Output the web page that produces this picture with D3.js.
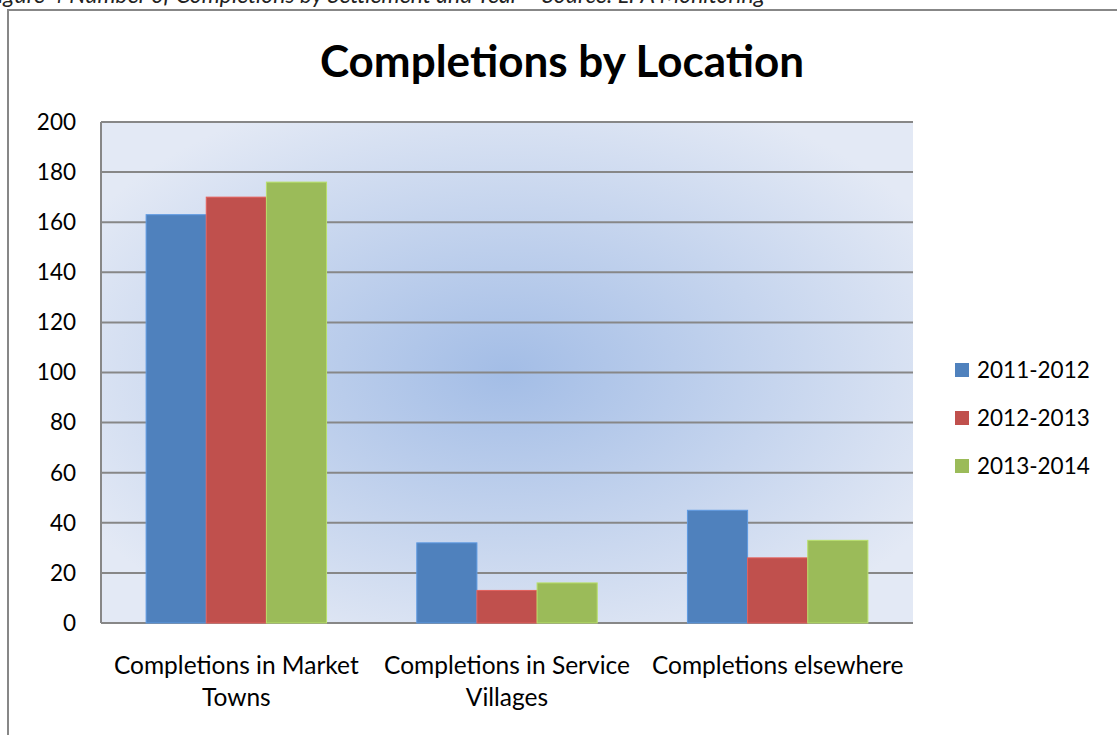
<!DOCTYPE html>
<html>
<head>
<meta charset="utf-8">
<script src="https://cdn.jsdelivr.net/npm/d3@7"></script>
<style>
  body { margin: 0; background: #fff; }
  svg { display: block; font-family: Lato, "Open Sans", sans-serif; }
</style>
</head>
<body>
<svg id="chart" width="1117" height="735"></svg>
<script>
// chart data
const categories = [["Completions in Market", "Towns"], ["Completions in Service", "Villages"], ["Completions elsewhere"]];
const seriesNames = ["2011-2012", "2012-2013", "2013-2014"];
const seriesColors = ["#4f81bd", "#c0504d", "#9bbb59"];
const values2011 = [163, 32, 45];
const values2012 = [170, 13, 26];
const values2013 = [176, 16, 33];
const yTicks = [0, 20, 40, 60, 80, 100, 120, 140, 160, 180, 200];

const series = [values2011, values2012, values2013];

const svg = d3.select('#chart');
const margin = {left: 101, top: 122, right: 913, bottom: 623};

// caption above the frame, cut off by the page top as in the source
svg.append('text')
    .attr('x', -14).attr('y', 3)
    .style('font-style', 'italic')
    .style('font-size', '23px')
    .attr('fill', '#222')
    .text('Figure 4 Number of Completions by Settlement and Year \u2013 Source: LPA Monitoring');

// outer frame
svg.append('rect')
    .attr('x', 8).attr('y', 10)
    .attr('width', 1120).attr('height', 740)
    .attr('fill', 'none')
    .attr('stroke', '#878787')
    .attr('stroke-width', 2);

// title
svg.append('text')
    .attr('x', 562).attr('y', 77)
    .attr('text-anchor', 'middle')
    .style('font-size', '44px')
    .style('font-weight', 'bold')
    .text('Completions by Location');

const x = d3.scaleBand()
    .domain(d3.range(categories.length))
    .range([margin.left, margin.right])
    .paddingInner(0).paddingOuter(0);

const xs = d3.scaleBand()
    .domain(d3.range(seriesNames.length))
    .range([0, x.bandwidth()])
    .paddingOuter(0.75).paddingInner(0);

const y = d3.scaleLinear()
    .domain([0, 200])
    .range([margin.bottom, margin.top]);

// plot background gradient
const defs = svg.append('defs');
const grad = defs.append('radialGradient')
    .attr('id', 'bg')
    .attr('cx', 0.5).attr('cy', 0.5).attr('r', 0.6);
grad.append('stop').attr('offset', '0%').attr('stop-color', '#a3bde6');
grad.append('stop').attr('offset', '55%').attr('stop-color', '#c6d5ee');
grad.append('stop').attr('offset', '100%').attr('stop-color', '#e3e9f5');

svg.append('rect')
    .attr('x', margin.left).attr('y', margin.top)
    .attr('width', margin.right - margin.left)
    .attr('height', margin.bottom - margin.top)
    .attr('fill', 'url(#bg)');

// gridlines
svg.append('g')
    .selectAll('line')
    .data(yTicks)
    .join('line')
    .attr('x1', margin.left).attr('x2', margin.right)
    .attr('y1', d => y(d)).attr('y2', d => y(d))
    .attr('stroke', '#878787')
    .attr('stroke-width', 2);

// y axis line
svg.append('line')
    .attr('x1', margin.left).attr('x2', margin.left)
    .attr('y1', margin.top).attr('y2', margin.bottom)
    .attr('stroke', '#878787')
    .attr('stroke-width', 2);

// y labels
svg.append('g')
    .selectAll('text')
    .data(yTicks)
    .join('text')
    .attr('x', 76)
    .attr('y', d => y(d))
    .attr('dy', '0.35em')
    .attr('text-anchor', 'end')
    .style('font-size', '22.5px')
    .text(d => d);

// bars
const groups = svg.append('g')
    .selectAll('g')
    .data(categories)
    .join('g')
    .attr('transform', (d, i) => `translate(${x(i)},0)`);

groups.selectAll('rect')
    .data((d, i) => series.map((s, j) => ({s: j, v: s[i]})))
    .join('rect')
    .attr('x', d => xs(d.s))
    .attr('y', d => y(d.v))
    .attr('width', xs.bandwidth())
    .attr('height', d => y(0) - y(d.v))
    .attr('fill', d => seriesColors[d.s])
    .attr('stroke', d => d3.color(seriesColors[d.s]).brighter(0.5))
    .attr('stroke-width', 1);

// category labels
groups.selectAll('text')
    .data(d => d)
    .join('text')
    .attr('x', x.bandwidth() / 2)
    .attr('y', (d, i) => 674 + i * 32)
    .attr('text-anchor', 'middle')
    .style('font-size', '24.5px')
    .text(d => d);

// legend
const legend = svg.append('g')
    .selectAll('g')
    .data(seriesNames)
    .join('g')
    .attr('transform', (d, i) => `translate(955,${370 + i * 48})`);

legend.append('rect')
    .attr('x', 0).attr('y', -7)
    .attr('width', 14).attr('height', 14)
    .attr('fill', (d, i) => seriesColors[i]);

legend.append('text')
    .attr('x', 22).attr('dy', '0.35em')
    .style('font-size', '22.5px')
    .text(d => d);
</script>
</body>
</html>
